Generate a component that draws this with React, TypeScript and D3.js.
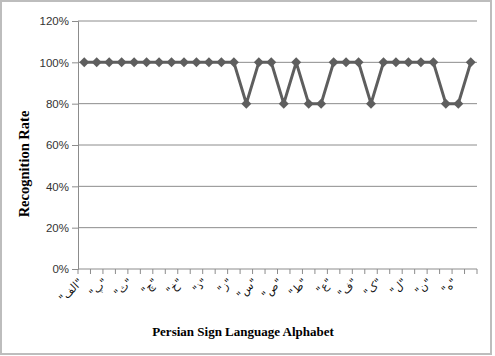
import { useEffect, useRef } from 'react';
import * as d3 from 'd3';

const letters = [
  "الف", "ب", "پ", "ت", "ث", "ج", "چ", "ح", "خ", "د", "ذ", "ر", "ز", "ژ", "س", "ش",
  "ص", "ض", "ط", "ظ", "ع", "غ", "ف", "ق", "ک", "گ", "ل", "م", "ن", "و", "ه", "ی",
];
const rates = [
  100, 100, 100, 100, 100, 100, 100, 100, 100, 100, 100, 100, 100, 80, 100, 100,
  80, 100, 80, 80, 100, 100, 100, 80, 100, 100, 100, 100, 100, 80, 80, 100,
];
const yTicks = [0, 20, 40, 60, 80, 100, 120];

export default function App() {
  const svgRef = useRef<SVGSVGElement>(null);

  useEffect(() => {
    if (!svgRef.current) return;
    const svg = d3.select(svgRef.current);
    svg.selectAll("*").remove();

    const W = 495, H = 356;
    const left = 78, right = 477, top = 21, bottom = 269;

    svg.attr("width", W).attr("height", H);

    // outer chart border
    svg.append("rect")
      .attr("x", 1).attr("y", 1).attr("width", 490).attr("height", 353)
      .attr("fill", "#fff").attr("stroke", "#bdbdbd").attr("stroke-width", 2);

    const x = d3.scaleBand<string>().domain(letters).range([left, right]);
    const y = d3.scaleLinear().domain([0, 120]).range([bottom, top]);

    // gridlines
    svg.append("g")
      .selectAll("line")
      .data(yTicks.filter(d => d > 0))
      .enter().append("line")
      .attr("x1", left).attr("x2", right)
      .attr("y1", d => y(d)).attr("y2", d => y(d))
      .attr("stroke", "#8c8c8c").attr("stroke-width", 1);

    // y axis
    const yAxis = svg.append("g")
      .attr("transform", `translate(${left},0)`)
      .call(d3.axisLeft(y).tickValues(yTicks).tickSize(6).tickPadding(3).tickFormat(d => `${d}%`));
    yAxis.select(".domain").attr("stroke", "#8c8c8c");
    yAxis.selectAll(".tick line").attr("stroke", "#8c8c8c");
    yAxis.selectAll(".tick text")
      .style("font-family", "'Liberation Sans', Arial, sans-serif")
      .style("font-size", "11.5px")
      .attr("fill", "#333");

    // x axis baseline and category ticks
    svg.append("line")
      .attr("x1", left).attr("x2", right)
      .attr("y1", bottom).attr("y2", bottom)
      .attr("stroke", "#8c8c8c");
    const bounds = letters.map(l => x(l)!).concat([right]);
    svg.append("g")
      .selectAll("line")
      .data(bounds)
      .enter().append("line")
      .attr("x1", d => d).attr("x2", d => d)
      .attr("y1", bottom).attr("y2", bottom + 5)
      .attr("stroke", "#8c8c8c");

    // x tick labels (every other category)
    svg.append("g")
      .selectAll("text")
      .data(letters.filter((_, i) => i % 2 === 0))
      .enter().append("text")
      .attr("transform", d => `translate(${x(d)! + x.bandwidth() / 2 - 1},${bottom + 14}) rotate(-45)`)
      .attr("text-anchor", "end")
      .style("font-family", "'DejaVu Sans', sans-serif")
      .style("font-size", "11px")
      .attr("fill", "#111")
      .text(d => `"${d}"`);

    const cx = (i: number) => x(letters[i])! + x.bandwidth() / 2;

    // series line
    const line = d3.line<number>()
      .x((_, i) => cx(i))
      .y(d => y(d));
    svg.append("path")
      .datum(rates)
      .attr("d", line)
      .attr("fill", "none")
      .attr("stroke", "#5e5e5e")
      .attr("stroke-width", 3)
      .attr("stroke-linejoin", "round");

    // diamond markers
    const diamond = d3.symbol().type(d3.symbolDiamond2).size(64);
    svg.append("g")
      .selectAll("path")
      .data(rates)
      .enter().append("path")
      .attr("d", diamond)
      .attr("transform", (d, i) => `translate(${cx(i)},${y(d)})`)
      .attr("fill", "#5e5e5e");

    // axis titles
    svg.append("text")
      .attr("x", 243).attr("y", 336)
      .attr("text-anchor", "middle")
      .style("font-family", "'Liberation Serif', 'Times New Roman', serif")
      .style("font-weight", "bold")
      .style("font-size", "13px")
      .attr("fill", "#000")
      .text("Persian Sign Language Alphabet");

    svg.append("text")
      .attr("transform", "translate(29,164) rotate(-90)")
      .attr("text-anchor", "middle")
      .style("font-family", "'Liberation Serif', 'Times New Roman', serif")
      .style("font-weight", "bold")
      .style("font-size", "14.5px")
      .attr("fill", "#000")
      .text("Recognition Rate");
  }, []);

  return (
    <svg ref={svgRef} style={{ position: "absolute", left: 0, top: 0, display: "block" }} />
  );
}
